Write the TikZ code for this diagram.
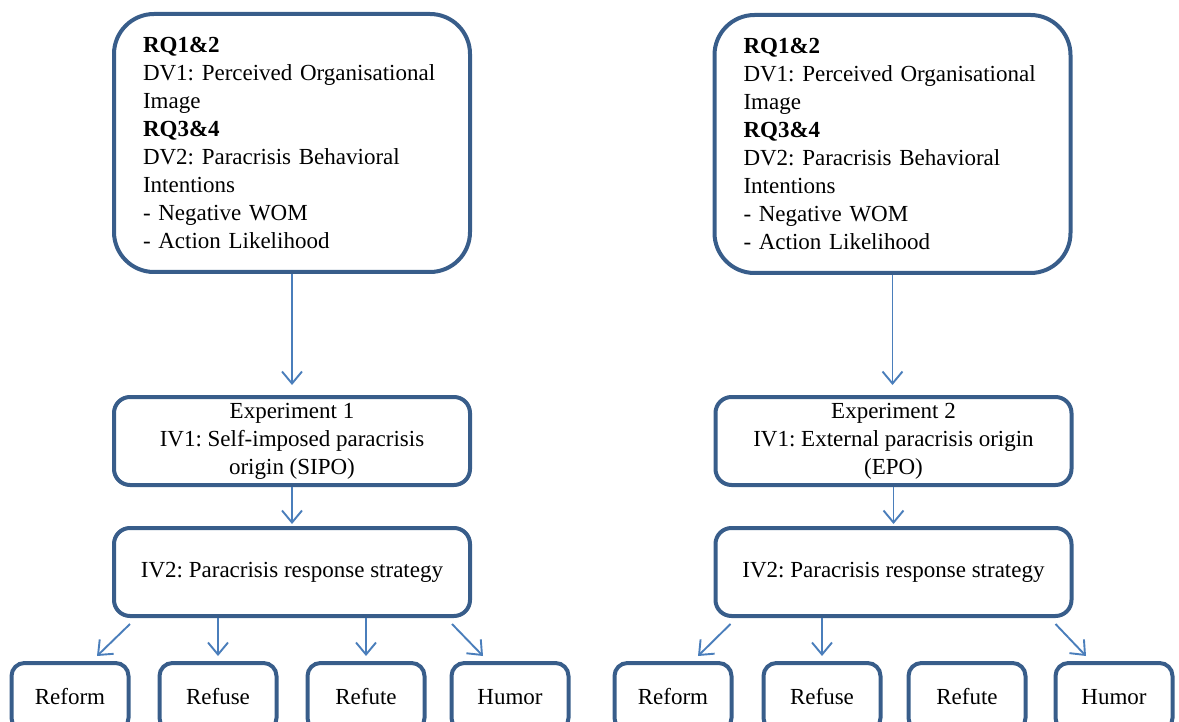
\documentclass[tikz,border=0pt]{standalone}
\usepackage{fontspec}
\setmainfont{Liberation Serif}
\usepackage{tikz}
\usetikzlibrary{arrows.meta,calc}
\usepackage{xcolor}
\definecolor{boxblue}{RGB}{56,93,138}
\definecolor{arrowblue}{RGB}{74,126,187}
\frenchspacing

\begin{document}
\begin{tikzpicture}[x=1pt, y=-1pt,
    rqbox/.style={draw=boxblue, line width=4pt, rounded corners=40pt, minimum width=356pt, minimum height=258pt, text width=298pt, align=left, inner sep=0pt, font=\fontsize{23}{28}\selectfont},
    expbox/.style={draw=boxblue, line width=4pt, rounded corners=16pt, minimum width=356pt, minimum height=88pt, align=center, inner sep=0pt, font=\fontsize{23}{28}\selectfont},
    leaf/.style={draw=boxblue, line width=4pt, rounded corners=13pt, minimum width=117pt, minimum height=68pt, inner sep=0pt, font=\fontsize{23}{28}\selectfont},
    arr/.style={-{Straight Barb[length=12pt, width=20pt]}, draw=arrowblue, line width=1.9pt}
]
\useasboundingbox (0,0) rectangle (1179,722);
\clip (0,0) rectangle (1179,722);

% Experiment 1
\node[rqbox] (rqa) at (292,143) {\textbf{RQ1\&2}\\DV1: Perceived Organisational\\Image\\\textbf{RQ3\&4}\\DV2: Paracrisis Behavioral\\Intentions\\- Negative WOM\\- Action Likelihood};
\node[expbox] (expa) at (292,441) {Experiment 1\\IV1: Self-imposed paracrisis\\origin (SIPO)};
\node[expbox] (iva) at (292,572) {IV2: Paracrisis response strategy};
\node[leaf] (rfa) at (70,697) {Reform};
\node[leaf] (rsa) at (218,697) {Refuse};
\node[leaf] (rta) at (366,697) {Refute};
\node[leaf] (hma) at (510,697) {Humor};

\draw[arr, shorten >=10pt] (rqa) -- (expa);
\draw[arr, shorten >=2pt] (expa) -- (iva);
\draw[arr] ($(iva.south west)+(18,6)$) -- ($(rfa.north)+(27,-5)$);
\draw[arr, shorten >=5pt] (rsa.north |- iva.south) -- (rsa.north);
\draw[arr, shorten >=5pt] (rta.north |- iva.south) -- (rta.north);
\draw[arr] ($(iva.south east)+(-20,6)$) -- ($(hma.north)+(-27,-5)$);

% Experiment 2
\node[rqbox] (rqb) at (892.5,144) {\textbf{RQ1\&2}\\DV1: Perceived Organisational\\Image\\\textbf{RQ3\&4}\\DV2: Paracrisis Behavioral\\Intentions\\- Negative WOM\\- Action Likelihood};
\node[expbox] (expb) at (893.5,441) {Experiment 2\\IV1: External paracrisis origin\\(EPO)};
\node[expbox] (ivb) at (893.5,572) {IV2: Paracrisis response strategy};
\node[leaf] (rfb) at (673,697) {Reform};
\node[leaf] (rsb) at (822,697) {Refuse};
\node[leaf] (rtb) at (967,697) {Refute};
\node[leaf] (hmb) at (1114,697) {Humor};

\draw[arr, shorten >=10pt] (rqb.south) -- (rqb.south |- expb.north);
\draw[arr, shorten >=2pt] (expb) -- (ivb);
\draw[arr] ($(ivb.south west)+(17,6)$) -- ($(rfb.north)+(25,-5)$);
\draw[arr, shorten >=5pt] (rsb.north |- ivb.south) -- (rsb.north);
\draw[arr] ($(ivb.south east)+(-18,6)$) -- ($(hmb.north)+(-28,-5)$);
\end{tikzpicture}
\end{document}
